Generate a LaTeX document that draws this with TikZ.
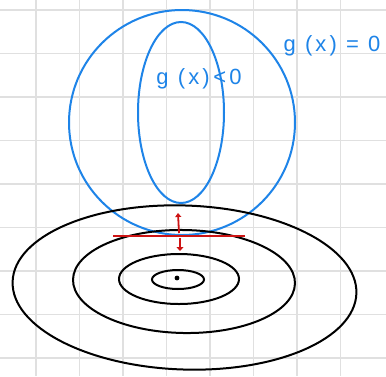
\documentclass[tikz,border=0pt]{standalone}
\usepackage{fontspec}
\setmainfont{Liberation Sans}
\newfontfamily\handfont[LetterSpace=14]{Liberation Sans}
\usetikzlibrary{arrows.meta}
\definecolor{gblue}{RGB}{30,132,232}
\definecolor{gred}{RGB}{205,20,20}
\definecolor{gridc}{RGB}{224,224,224}
\begin{document}
\begin{tikzpicture}[x=1pt,y=-1pt,
  blueline/.style={draw=gblue,line width=2pt},
  blackline/.style={draw=black,line width=2pt},
  redline/.style={draw=gred,line width=1.8pt},
  lbl/.style={text=gblue,font=\handfont\fontsize{22}{22}\selectfont,inner sep=0pt}]
\useasboundingbox (0,0) rectangle (386,376);
\fill[white] (0,0) rectangle (386,376);
% grid
\foreach \x in {36,79.5,123,166.5,210,253.5,297,340.5}
  \draw[gridc,line width=1.2pt] (\x,0) -- (\x,376);
\foreach \y in {10,53.5,97,140.5,184,227.5,271,314.5,358}
  \draw[gridc,line width=1.2pt] (0,\y) -- (386,\y);
% blue constraint
\draw[blueline] (182,122.5) ellipse [x radius=113, y radius=112.5];
\draw[blueline] (181,112.5) ellipse [x radius=43, y radius=90.5];
% black contours
\draw[blackline,rotate around={-2:(184.5,287.5)}] (184.5,287.5) ellipse [x radius=172, y radius=82];
\draw[blackline,rotate around={-1:(184,281.5)}] (184,281.5) ellipse [x radius=111, y radius=51.5];
\draw[blackline] (179,279) ellipse [x radius=60, y radius=25];
\draw[blackline] (178,279.5) ellipse [x radius=26, y radius=9.5];
\fill (177,278) circle (2.4);
% red tangent and arrows
\coordinate (tl) at (113,236);
\coordinate (tr) at (245,236);
\coordinate (up0) at (179,233);
\coordinate (up1) at (178,213);
\coordinate (dn0) at (180,238);
\coordinate (dn1) at (180,251);
\draw[redline] (tl) -- (tr);
\draw[redline,-{Triangle[length=4pt,width=6pt]}] (up0) -- (up1);
\draw[redline,-{Triangle[length=4pt,width=7pt]}] (dn0) -- (dn1);
% labels
\node[lbl] (ginside) at (199,79) {g (x)\,<0};
\node[lbl] (gboundary) at (332,46) {g (x) = 0};
\end{tikzpicture}
\end{document}
